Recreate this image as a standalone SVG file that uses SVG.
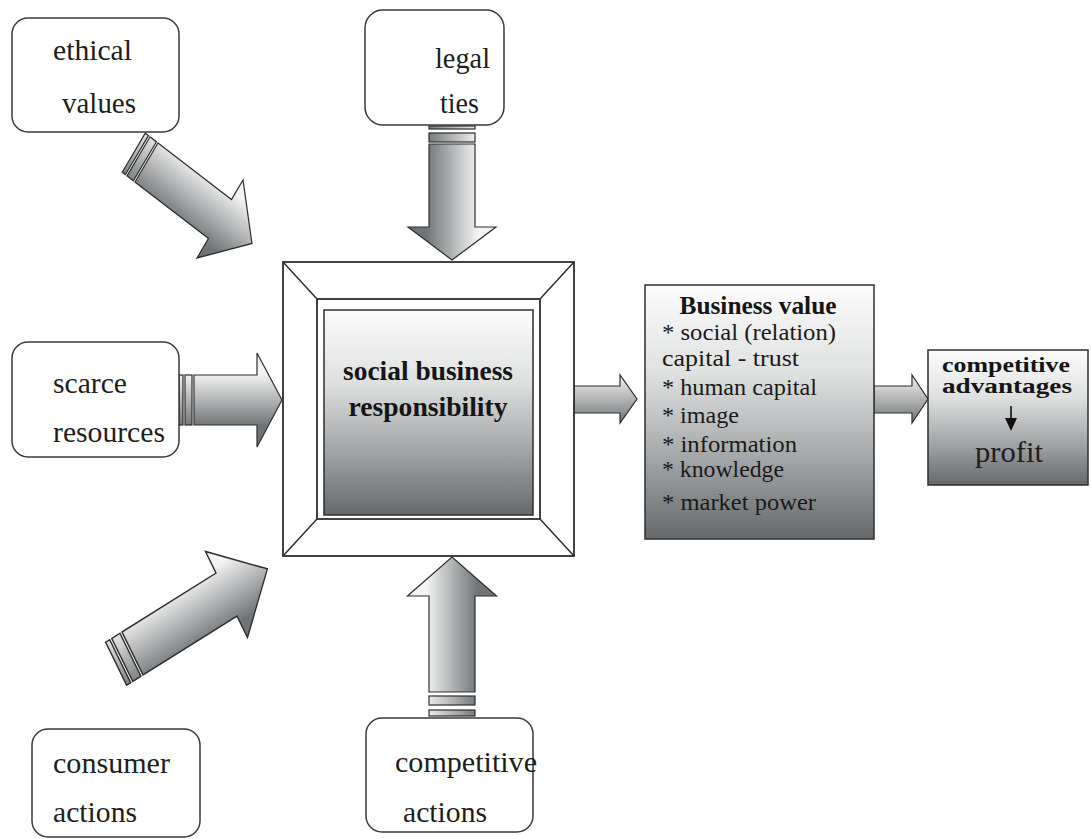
<svg xmlns="http://www.w3.org/2000/svg" width="1091" height="839" viewBox="0 0 1091 839">
<style>
text{font-family:Liberation Serif, serif}
.box{fill:#fff;stroke:#3a3a3a;stroke-width:1.5}
.lbl{font-size:30px;fill:#1e1e1e}
.bl{font-size:24px;fill:#1a1a1a}
.bb{font-weight:bold;fill:#151515}
.arr{fill:url(#ga);stroke:#2e2e2e;stroke-width:1.2;stroke-linejoin:miter}
.frm{fill:#fff;stroke:#2e2e2e;stroke-width:1.8}
.ln{stroke:#2e2e2e;stroke-width:1.5;fill:none}
</style>
<defs>
<linearGradient id="ga" gradientUnits="userSpaceOnUse" x1="0" y1="-26" x2="0" y2="26">
<stop offset="0" stop-color="#f3f3f3"/>
<stop offset="1" stop-color="#707476"/>
</linearGradient>
<linearGradient id="gs" x1="0" y1="0" x2="0" y2="1">
<stop offset="0" stop-color="#f3f3f3"/>
<stop offset="1" stop-color="#707476"/>
</linearGradient>
<linearGradient id="gb" x1="0" y1="0" x2="0" y2="1">
<stop offset="0" stop-color="#fcfcfc"/>
<stop offset="0.35" stop-color="#dfe0e0"/>
<stop offset="0.7" stop-color="#a0a3a5"/>
<stop offset="1" stop-color="#65696b"/>
</linearGradient>
</defs>

<g id="connectors">
<g id="arrow-ethical" transform="matrix(0.799,0.614,-0.575,0.975,146.5,162.5)">
<polygon class="arr" points="0,-20 92,-20 92,-40 132,0 92,40 92,20 0,20"/>
<rect class="arr" x="-10" y="-20" width="8" height="40"/>
<rect class="arr" x="-16" y="-20" width="4" height="40"/>
</g>
<g id="arrow-legal" transform="translate(452,144) rotate(90)">
<polygon class="arr" points="0,-23 83,-23 83,-44 116,0 83,44 83,23 0,23"/>
<rect class="arr" x="-11" y="-23" width="9" height="46"/>
<rect class="arr" x="-18" y="-23" width="3" height="46"/>
</g>
<g id="arrow-scarce" transform="translate(194,400)">
<polygon class="arr" points="0,-25 63,-25 63,-47 88,0 63,47 63,25 0,25"/>
<rect class="arr" x="-9" y="-25" width="7" height="50"/>
<rect class="arr" x="-15" y="-25" width="4" height="50"/>
</g>
<g id="arrow-consumer" transform="matrix(1.022,-0.641,0.525,1.075,132.5,653.5)">
<polygon class="arr" points="0,-20 92,-20 92,-40 132,0 92,40 92,20 0,20"/>
<rect class="arr" x="-10" y="-20" width="8" height="40"/>
<rect class="arr" x="-16" y="-20" width="4" height="40"/>
</g>
<g id="arrow-competitive" transform="translate(452,692) rotate(-90)">
<polygon class="arr" points="0,-23 96,-23 96,-44.5 135,0 96,44.5 96,23 0,23"/>
<rect class="arr" x="-13" y="-23" width="9" height="46"/>
<rect class="arr" x="-24" y="-23" width="6" height="46"/>
</g>
<polygon id="arrow-sbr-bv" style="fill:url(#gs);stroke:#2e2e2e;stroke-width:1.2" points="574,386 620,386 620,375 637,399 620,423 620,413 574,413"/>
<polygon id="arrow-bv-ca" style="fill:url(#gs);stroke:#2e2e2e;stroke-width:1.2" points="874,386 912,386 912,375 928,399 912,423 912,413 874,413"/>
</g>

<g id="node-ethical">
<rect class="box" x="12" y="18" width="167" height="114" rx="16"/>
<text class="lbl" x="53" y="60" textLength="79" lengthAdjust="spacingAndGlyphs">ethical</text>
<text class="lbl" x="62" y="113" textLength="74" lengthAdjust="spacingAndGlyphs">values</text>
</g>
<g id="node-legal">
<rect class="box" x="365" y="10" width="139" height="115" rx="18"/>
<text class="lbl" x="435" y="68" textLength="55" lengthAdjust="spacingAndGlyphs">legal</text>
<text class="lbl" x="440" y="113" textLength="39" lengthAdjust="spacingAndGlyphs">ties</text>
</g>
<g id="node-scarce">
<rect class="box" x="12" y="342" width="167" height="115" rx="16"/>
<text class="lbl" x="53" y="393" textLength="74" lengthAdjust="spacingAndGlyphs">scarce</text>
<text class="lbl" x="53" y="442" textLength="112" lengthAdjust="spacingAndGlyphs">resources</text>
</g>
<g id="node-consumer">
<rect class="box" x="32" y="729" width="168" height="108" rx="16"/>
<text class="lbl" x="53" y="773" textLength="117" lengthAdjust="spacingAndGlyphs">consumer</text>
<text class="lbl" x="53" y="822" textLength="84" lengthAdjust="spacingAndGlyphs">actions</text>
</g>
<g id="node-competitive">
<rect class="box" x="366" y="718" width="167" height="114" rx="16"/>
<text class="lbl" x="395" y="772" textLength="142" lengthAdjust="spacingAndGlyphs">competitive</text>
<text class="lbl" x="403" y="822" textLength="84" lengthAdjust="spacingAndGlyphs">actions</text>
</g>

<g id="node-sbr">
<rect class="frm" x="283" y="262" width="291" height="294"/>
<rect class="frm" x="317" y="299" width="223" height="220"/>
<path class="ln" d="M283,262 L317,299 M574,262 L540,299 M283,556 L317,519 M574,556 L540,519"/>
<rect x="324" y="310" width="209" height="205" fill="url(#gb)" stroke="#2e2e2e" stroke-width="1.5"/>
<text class="bb" x="428" y="380" font-size="27" text-anchor="middle" textLength="170" lengthAdjust="spacingAndGlyphs">social business</text>
<text class="bb" x="428" y="416" font-size="27" text-anchor="middle" textLength="159" lengthAdjust="spacingAndGlyphs">responsibility</text>
</g>

<g id="node-business-value">
<rect x="645" y="285" width="229" height="254" fill="url(#gb)" stroke="#2e2e2e" stroke-width="1.5"/>
<text class="bb" x="758" y="314" font-size="25" text-anchor="middle" textLength="157" lengthAdjust="spacingAndGlyphs">Business value</text>
<text class="bl" x="662" y="340" textLength="174" lengthAdjust="spacingAndGlyphs">* social (relation)</text>
<text class="bl" x="662" y="366" textLength="137" lengthAdjust="spacingAndGlyphs">capital - trust</text>
<text class="bl" x="662" y="395" textLength="155" lengthAdjust="spacingAndGlyphs">* human capital</text>
<text class="bl" x="662" y="423" textLength="77" lengthAdjust="spacingAndGlyphs">* image</text>
<text class="bl" x="662" y="452" textLength="135" lengthAdjust="spacingAndGlyphs">* information</text>
<text class="bl" x="662" y="477" textLength="122" lengthAdjust="spacingAndGlyphs">* knowledge</text>
<text class="bl" x="662" y="510" textLength="154" lengthAdjust="spacingAndGlyphs">* market power</text>
</g>

<g id="node-competitive-advantages">
<rect x="928" y="350" width="160" height="135" fill="url(#gb)" stroke="#2e2e2e" stroke-width="1.5"/>
<text class="bb" x="1006" y="372" font-size="20" text-anchor="middle" textLength="128" lengthAdjust="spacingAndGlyphs">competitive</text>
<text class="bb" x="1007" y="393" font-size="20" text-anchor="middle" textLength="130" lengthAdjust="spacingAndGlyphs">advantages</text>
<line x1="1011" y1="406" x2="1011" y2="420" stroke="#111" stroke-width="1.6"/>
<polygon points="1005,418 1017,418 1011,431" fill="#111"/>
<text class="lbl" x="1009" y="462" text-anchor="middle" textLength="68" lengthAdjust="spacingAndGlyphs">profit</text>
</g>
</svg>
